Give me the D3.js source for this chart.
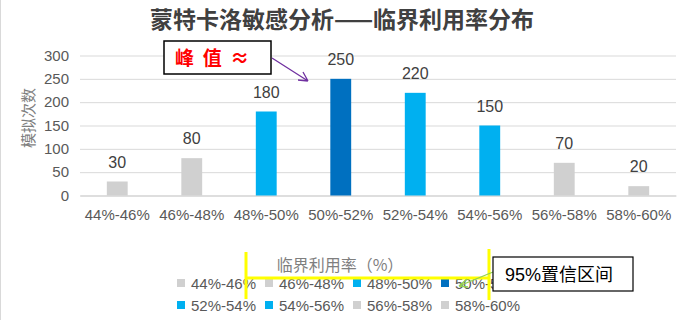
<!DOCTYPE html>
<html>
<head>
<meta charset="utf-8">
<script src="https://cdn.jsdelivr.net/npm/d3@7"></script>
<style>
  body { margin: 0; background: #fff; }
  svg { display: block; }
</style>
</head>
<body>
<svg id="chart" width="690" height="320"></svg>
<script>
const categories = ["44%-46%", "46%-48%", "48%-50%", "50%-52%", "52%-54%", "54%-56%", "56%-58%", "58%-60%"];
const values = [30, 80, 180, 250, 220, 150, 70, 20];
const barColors = ["#d0d0d0", "#d0d0d0", "#00b0f0", "#0070c0", "#00b0f0", "#00b0f0", "#d0d0d0", "#d0d0d0"];
const yTicks = [0, 50, 100, 150, 200, 250, 300];

const svg = d3.select("#chart");
const margin = {top: 55.5, right: 14, bottom: 124.5, left: 80};
const width = 690 - margin.left - margin.right;
const height = 320 - margin.top - margin.bottom;
const sans = "'Liberation Sans', Arial, 'Noto Sans CJK SC', sans-serif";
const cjk = "'Noto Sans CJK SC', sans-serif";

// left frame edge
svg.append("line")
  .attr("x1", 0.5).attr("x2", 0.5).attr("y1", 0).attr("y2", 320)
  .attr("stroke", "#d9d9d9");

const x = d3.scaleBand().domain(categories).range([0, width]).paddingInner(0.72).paddingOuter(0.36);
const y = d3.scaleLinear().domain([0, 300]).range([height, 0]);
const color = d3.scaleOrdinal(categories, barColors);

const g = svg.append("g").attr("transform", `translate(${margin.left},${margin.top})`);

// gridlines
g.append("g")
  .call(d3.axisLeft(y).tickValues(yTicks).tickSize(-width).tickFormat(""))
  .call(a => a.select(".domain").remove())
  .call(a => a.selectAll("line").attr("stroke", "#d9d9d9").attr("stroke-width", 1));

// y axis labels
g.append("g")
  .call(d3.axisLeft(y).tickValues(yTicks).tickSize(0).tickPadding(11))
  .call(a => a.select(".domain").remove())
  .call(a => a.selectAll("text").attr("fill", "#595959").style("font", `15px ${sans}`));

// x axis
g.append("g")
  .attr("transform", `translate(0,${height})`)
  .call(d3.axisBottom(x).tickSize(0).tickPadding(14))
  .call(a => a.select(".domain").attr("stroke", "#d0d0d0"))
  .call(a => a.selectAll("text").attr("fill", "#595959").style("font", `15px ${sans}`));

// bars
g.selectAll("rect.bar")
  .data(categories)
  .enter()
  .append("rect")
  .attr("class", "bar")
  .attr("x", d => x(d))
  .attr("width", x.bandwidth())
  .attr("y", (d, i) => y(values[i]))
  .attr("height", (d, i) => height - y(values[i]))
  .attr("fill", d => color(d));

// value labels
g.selectAll("text.val")
  .data(categories)
  .enter()
  .append("text")
  .attr("class", "val")
  .attr("x", d => x(d) + x.bandwidth() / 2)
  .attr("y", (d, i) => y(values[i]) - 14)
  .attr("text-anchor", "middle")
  .attr("fill", "#404040")
  .style("font", `16px ${sans}`)
  .text((d, i) => values[i]);

// title
svg.append("text")
  .attr("x", 342).attr("y", 28)
  .attr("text-anchor", "middle")
  .attr("fill", "#404040")
  .style("font", `bold 23px ${cjk}`)
  .text("蒙特卡洛敏感分析——临界利用率分布");

// y axis title
svg.append("text")
  .attr("transform", "translate(29,118) rotate(-90)")
  .attr("text-anchor", "middle")
  .attr("dy", "0.35em")
  .attr("fill", "#7f7f7f")
  .style("font", `15px ${cjk}`)
  .text("模拟次数");

// x axis title
svg.append("text")
  .attr("x", 340).attr("y", 271)
  .attr("text-anchor", "middle")
  .attr("fill", "#7f7f7f")
  .style("font", `16px ${cjk}`)
  .text("临界利用率（%）");

// legend
const legend = svg.append("g");
const items = legend.selectAll("g")
  .data(categories)
  .enter()
  .append("g")
  .attr("transform", (d, i) => `translate(${177 + (i % 4) * 88},${i < 4 ? 283 : 305})`);
items.append("rect")
  .attr("x", 0).attr("y", -4).attr("width", 8).attr("height", 8)
  .attr("fill", d => color(d));
items.append("text")
  .attr("x", 14).attr("y", 5.5)
  .attr("fill", "#595959")
  .style("font", `15px ${sans}`)
  .text(d => d);

// yellow bracket
const bracket = svg.append("g").attr("stroke", "#ffff00").attr("stroke-width", 3);
bracket.append("line").attr("x1", 246).attr("x2", 246).attr("y1", 252).attr("y2", 299);
bracket.append("line").attr("x1", 489).attr("x2", 489).attr("y1", 249).attr("y2", 300);
bracket.append("line").attr("x1", 246).attr("x2", 489).attr("y1", 278).attr("y2", 278);

// green arrow
svg.append("path")
  .attr("d", "M493,272 L459,286 M459,286 L467,279 M459,286 L468,287")
  .attr("stroke", "#92d050").attr("stroke-width", 1.3).attr("fill", "none");

// 95% box
svg.append("rect")
  .attr("x", 493).attr("y", 257).attr("width", 140).attr("height", 34)
  .attr("fill", "#fff").attr("stroke", "#000").attr("stroke-width", 1.2);
svg.append("text")
  .attr("x", 505).attr("y", 281)
  .attr("fill", "#000")
  .style("font", `18px ${sans}`)
  .text("95%置信区间");

// peak annotation
svg.append("rect")
  .attr("x", 164).attr("y", 41).attr("width", 107).attr("height", 33)
  .attr("fill", "#fff").attr("stroke", "#000").attr("stroke-width", 1.5);
svg.append("text")
  .attr("x", 175).attr("y", 65)
  .attr("fill", "#ff0000")
  .style("font", `bold 19px ${cjk}`)
  .attr("xml:space", "preserve")
  .text("峰  值  ≈");

svg.append("path")
  .attr("d", "M272,58 L308,81 M308,81 L298,80 M308,81 L303,72")
  .attr("stroke", "#7030a0").attr("stroke-width", 1.3).attr("fill", "none");
</script>
</body>
</html>
